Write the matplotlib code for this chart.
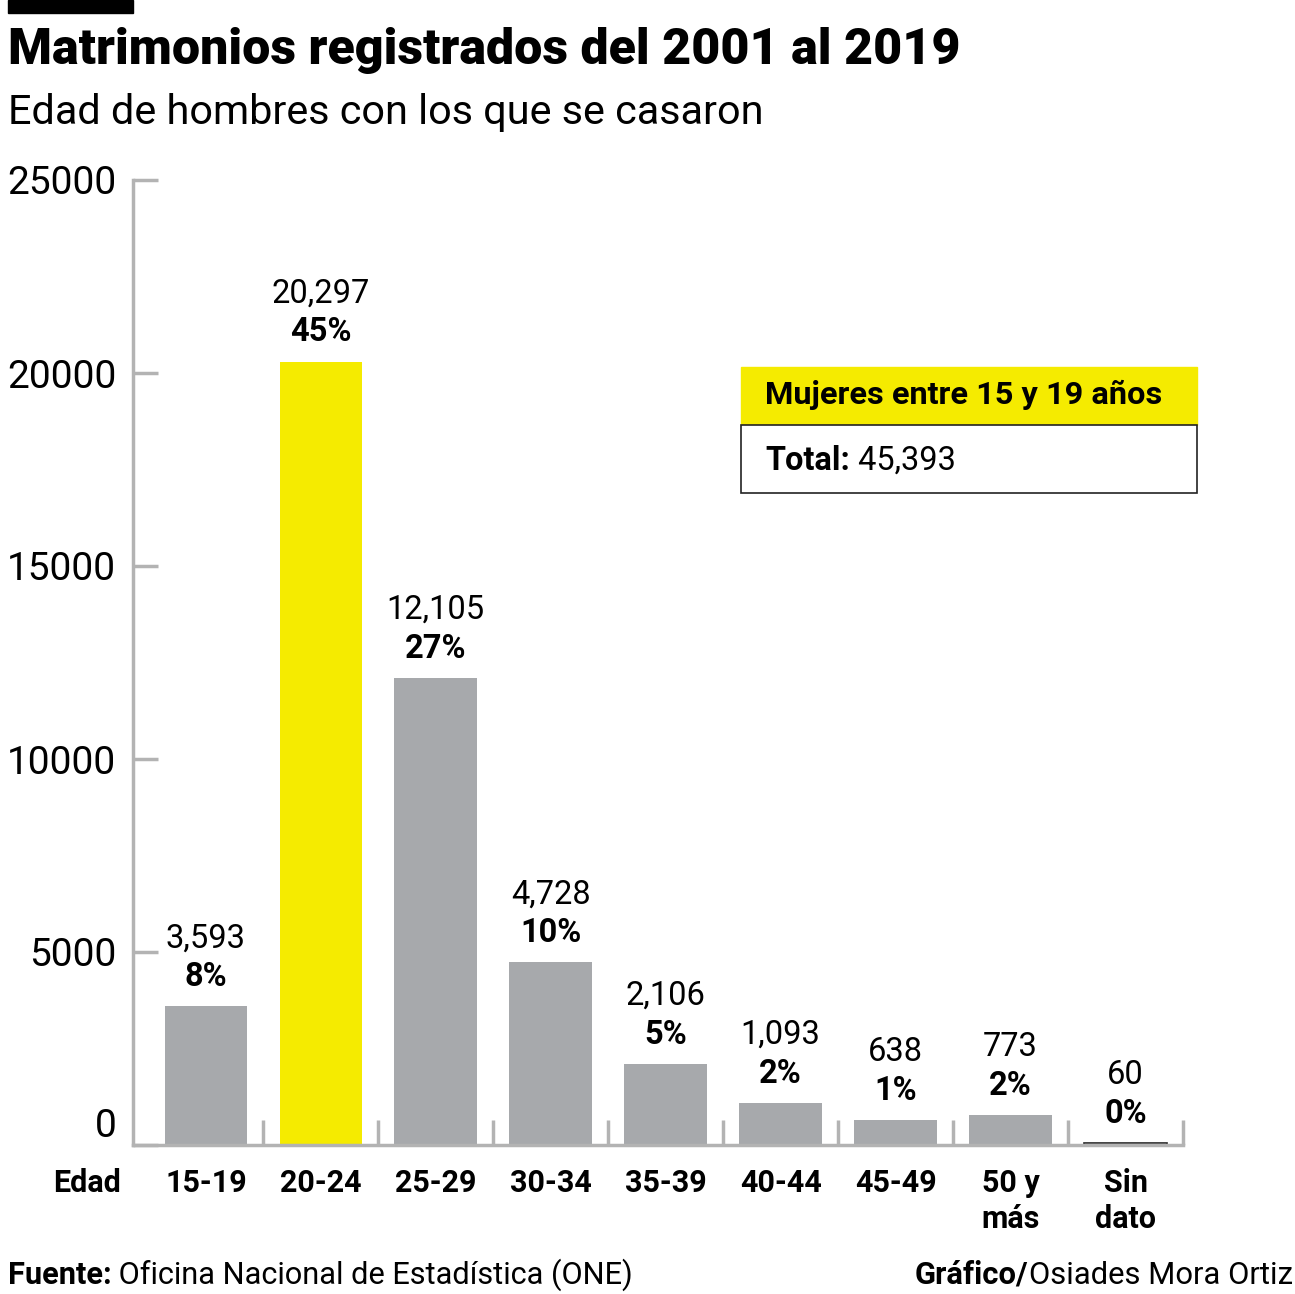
import matplotlib
matplotlib.use("Agg")
import matplotlib.pyplot as plt
from matplotlib.patches import Rectangle

# data
categories = ["15-19", "20-24", "25-29", "30-34", "35-39", "40-44", "45-49", "50 y\nmás", "Sin\ndato"]
values = [3593, 20297, 12105, 4728, 2106, 1093, 638, 773, 60]
pct_labels = ["8%", "45%", "27%", "10%", "5%", "2%", "1%", "2%", "0%"]
yticks = [0, 5000, 10000, 15000, 20000, 25000]
total = 45393

GRAY = "#a7a9ac"
YELLOW = "#f5eb00"
AXIS = "#b3b3b3"

plt.rcParams["font.family"] = ["Roboto", "DejaVu Sans"]

W, H = 1295, 1294
fig = plt.figure(figsize=(W / 100, H / 100), dpi=100)
r = fig.canvas.get_renderer()


def fx(px):
    return px / W


def fy(py):
    return 1 - py / H


def fit(t, target):
    # scale the text's font size so it spans target pixels
    w = t.get_window_extent(r).width
    t.set_fontsize(t.get_fontsize() * target / w)
    return t


ax = fig.add_axes([fx(133), fy(1145), fx(1183) - fx(133), fy(180) - fy(1145)])

colors = [GRAY] * len(values)
colors[1] = YELLOW
x = list(range(len(values)))
bars = ax.bar(x, values, width=0.72, color=colors, zorder=2)
# "Sin dato" bar is just a thin dark line
bars[-1].set_color("white")
bars[-1].set_edgecolor("#222222")
bars[-1].set_linewidth(1.2)

ax.set_xlim(-0.635, 8.5)
ax.set_ylim(0, 25000)

for s in ["top", "right"]:
    ax.spines[s].set_visible(False)
for s in ["left", "bottom"]:
    ax.spines[s].set_color(AXIS)
    ax.spines[s].set_linewidth(2.5)

ax.set_yticks(yticks)
ax.set_yticklabels([str(v) for v in yticks], fontsize=28)
ax.tick_params(axis="y", direction="in", length=18, width=2.5, color=AXIS, pad=12)
ax.get_yticklabels()[0].set_va("bottom")

ax.set_xticks([i + 0.5 for i in range(len(values))])
ax.set_xticklabels([])
ax.tick_params(axis="x", direction="in", length=18, width=2.5, color=AXIS)

for i, (v, p) in enumerate(zip(values, pct_labels)):
    ax.annotate(f"{v:,}", (i, v), xytext=(0, 49), textcoords="offset points",
                ha="center", va="center", fontsize=23.5)
    ax.annotate(p, (i, v), xytext=(0, 21), textcoords="offset points",
                ha="center", va="center", fontsize=23.5, fontweight="bold")

# category labels
for i, c in enumerate(categories):
    ax.text(i, -0.024, c, transform=ax.get_xaxis_transform(), ha="center", va="top",
            fontsize=22, fontweight="bold", linespacing=1.25)
ax.text(-0.74, -0.024, "Edad", transform=ax.get_xaxis_transform(), ha="right", va="top",
        fontsize=22, fontweight="bold")

# header
fig.patches.append(Rectangle((fx(8), fy(13)), fx(133) - fx(8), fy(0) - fy(13),
                             transform=fig.transFigure, color="black"))
t = fig.text(fx(8), fy(50), "Matrimonios registrados del 2001 al 2019", fontsize=40,
             fontweight="black", va="center", ha="left")
fit(t, 950)
t = fig.text(fx(8), fy(113), "Edad de hombres con los que se casaron", fontsize=31,
             va="center", ha="left")
fit(t, 754)

# legend box
fig.patches.append(Rectangle((fx(741), fy(425)), fx(1197) - fx(741), fy(367) - fy(425),
                             transform=fig.transFigure, color=YELLOW))
fig.patches.append(Rectangle((fx(741), fy(493)), fx(1197) - fx(741), fy(425) - fy(493),
                             transform=fig.transFigure, facecolor="white",
                             edgecolor="#222222", linewidth=1.2))
t = fig.text(fx(765), fy(395), "Mujeres entre 15 y 19 años", fontsize=23, fontweight="bold",
             va="center", ha="left")
fit(t, 398)


def mixed(xpx, ypx, bold, regular, size, width, align="left"):
    tb = fig.text(fx(xpx), fy(ypx), bold, fontsize=size, fontweight="bold", va="center", ha="left")
    tr = fig.text(fx(xpx), fy(ypx), regular, fontsize=size, va="center", ha="left")
    wb = tb.get_window_extent(r).width
    wr = tr.get_window_extent(r).width
    k = width / (wb + wr)
    tb.set_fontsize(size * k)
    tr.set_fontsize(size * k)
    wb *= k
    wr *= k
    start = xpx - wb - wr if align == "right" else xpx
    tb.set_x(fx(start))
    tr.set_x(fx(start + wb))


mixed(765, 461, "Total:", f" {total:,}", 23, 191)
mixed(8, 1275, "Fuente:", " Oficina Nacional de Estadística (ONE)", 21, 625)
mixed(1293, 1275, "Gráfico/", "Osiades Mora Ortiz", 21, 378, align="right")

fig.savefig("out.png", dpi=100, facecolor="white")
